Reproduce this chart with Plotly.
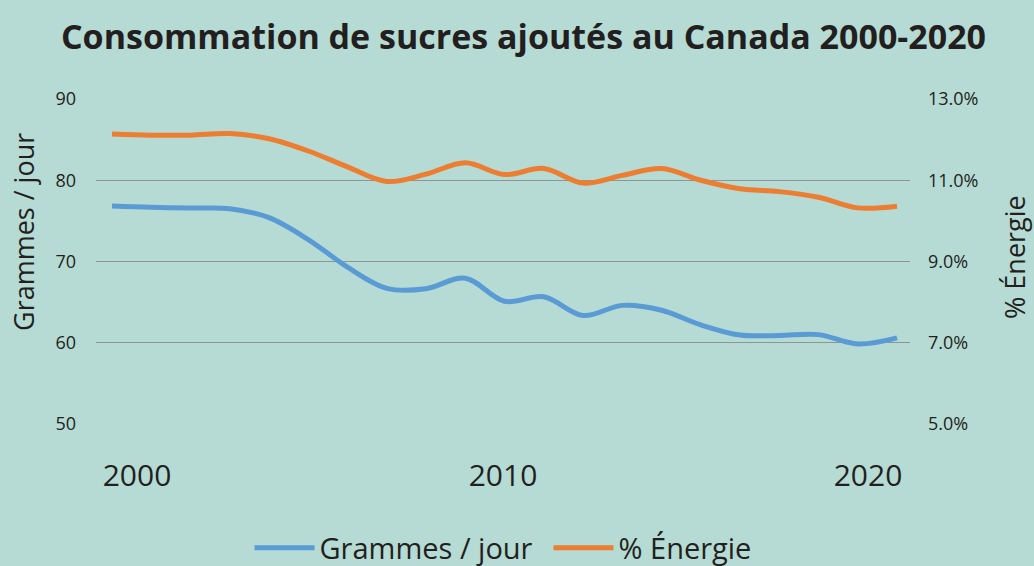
import plotly.graph_objects as go

years = list(range(2000, 2021))
grammes_jour = [76.83, 76.67, 76.58, 76.5, 75.4, 72.7, 69.3, 66.7, 66.65, 67.95, 65.1,
                65.65, 63.35, 64.6, 64.0, 62.2, 60.95, 60.9, 61.0, 59.85, 60.6]
pct_energie = [12.14, 12.11, 12.11, 12.15, 12.02, 11.72, 11.33, 10.97, 11.15, 11.43, 11.14,
               11.29, 10.93, 11.12, 11.29, 11.0, 10.79, 10.72, 10.58, 10.32, 10.36]
tick_labels = ["2000", "2010", "2020"]
y_left_ticks = [50, 60, 70, 80, 90]
y_right_ticks = [5, 7, 9, 11, 13]

BG = "#b5dbd4"
TXT = "#231f20"
GRID = "#8f9594"
FONT = "Open Sans"

W, H = 1034, 566
ML, MR, MT, MB = 96, 124, 99, 142

fig = go.Figure()
fig.add_trace(go.Scatter(x=years, y=grammes_jour, name="Grammes / jour", mode="lines",
                         line=dict(color="#5b9bd5", width=5, shape="spline", smoothing=1.0),
                         yaxis="y"))
fig.add_trace(go.Scatter(x=years, y=pct_energie, name="% Énergie", mode="lines",
                         line=dict(color="#ed7d31", width=5, shape="spline", smoothing=1.0),
                         yaxis="y2"))

pw = W - ML - MR
ph = H - MT - MB


def px_to_paper(xp, yp):
    return (xp - ML) / pw, 1 - (yp - MT) / ph


ax1, ay1 = px_to_paper(23, 232)
ax2, ay2 = px_to_paper(1014, 257)

fig.update_layout(
    width=W, height=H,
    paper_bgcolor=BG, plot_bgcolor=BG,
    margin=dict(l=ML, r=MR, t=MT, b=MB),
    font=dict(family=FONT, color=TXT),
    title=dict(text="<b>Consommation de sucres ajoutés au Canada 2000-2020</b>",
               x=523.5 / W, xref="container", xanchor="center",
               y=1 - 37 / H, yref="container", yanchor="middle",
               font=dict(family=FONT, size=34, color=TXT)),
    xaxis=dict(range=[1999.592, 2020.331], tickvals=[2000.637, 2009.962, 2019.261],
               ticktext=tick_labels, showgrid=False, zeroline=False, showline=False,
               ticks="", tickfont=dict(size=30, color=TXT), ticklabelstandoff=31),
    yaxis=dict(range=[50, 90], tickvals=y_left_ticks, showgrid=True, gridcolor=GRID,
               gridwidth=1, zeroline=False, showline=False, ticks="",
               tickfont=dict(size=18, color=TXT), ticklabelstandoff=19),
    yaxis2=dict(range=[5, 13], tickvals=y_right_ticks,
                ticktext=[f"{v:.1f}%" for v in y_right_ticks],
                overlaying="y", side="right",
                showgrid=False, zeroline=False, showline=False, ticks="",
                tickfont=dict(size=18, color=TXT), ticklabelstandoff=17),
    legend=dict(orientation="h", x=195 / W, xanchor="left", y=1 - 548 / H,
                yref="container", yanchor="middle", font=dict(size=29, color=TXT),
                bgcolor="rgba(0,0,0,0)", itemwidth=60, entrywidth=224),
    showlegend=True,
    annotations=[
        dict(text="Grammes / jour", textangle=-90, x=ax1, y=ay1,
             xref="paper", yref="paper", showarrow=False,
             font=dict(size=27, color=TXT), xanchor="center", yanchor="middle"),
        dict(text="% Énergie", textangle=-90, x=ax2, y=ay2,
             xref="paper", yref="paper", showarrow=False,
             font=dict(size=27, color=TXT), xanchor="center", yanchor="middle"),
    ],
)

fig.write_html("out.html", config={"displayModeBar": False},
               post_script="document.body.style.margin='0';document.body.style.background='" + BG + "';")
